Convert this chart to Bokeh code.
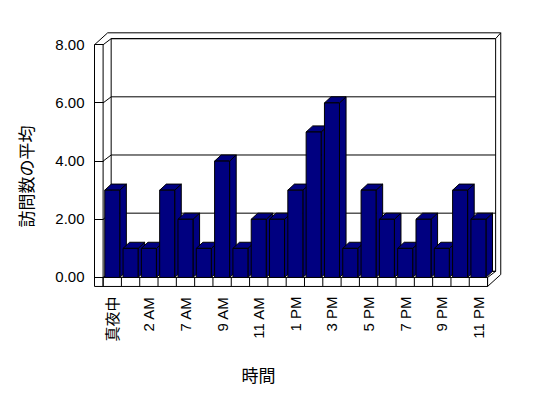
import math
from bokeh.plotting import figure
from bokeh.models import FixedTicker, Title, Range1d
from bokeh.embed import file_html
from bokeh.resources import INLINE

# ---- data ----
categories = ["真夜中", "1 AM", "2 AM", "6 AM", "7 AM", "8 AM", "9 AM", "10 AM",
              "11 AM", "12 PM", "1 PM", "2 PM", "3 PM", "4 PM", "5 PM", "6 PM",
              "7 PM", "8 PM", "9 PM", "10 PM", "11 PM"]
values = [3, 1, 1, 3, 2, 1, 4, 1, 2, 2, 3, 5, 6, 1, 3, 2, 1, 2, 1, 3, 2]
y_ticks = [0, 2, 4, 6, 8]
y_tick_labels = ["0.00", "2.00", "4.00", "6.00", "8.00"]
x_title = "時間"
y_title = "訪問数の平均"

# ---- 3D geometry (data units) ----
N = len(categories)
YMAX = y_ticks[-1]
B0, B1 = 0.09, 0.91          # bar front span inside a category
BDX, BDY = 0.36, 0.21        # bar depth
WDX, WDY = 0.44, 0.21        # floor / back wall depth
ODX, ODY = 0.72, 0.41        # outer wall depth
WT = 0.47                    # left wall thickness
FT = 0.31                    # floor thickness
NAVY = "#000080"

p = figure(width=540, height=397, output_backend="svg", toolbar_location=None,
           x_range=Range1d(-WT, N + 0.87), y_range=Range1d(-0.38, 8.49),
           min_border_left=94, min_border_right=37, min_border_top=30,
           min_border_bottom=109)
p.outline_line_color = None
p.xgrid.visible = False
p.ygrid.visible = False
p.background_fill_color = "white"
p.border_fill_color = "white"

# outer shell of walls and floor
p.patch([-WT, -WT + ODX, N + ODX, N + ODX, N, -WT],
        [YMAX, YMAX + ODY, YMAX + ODY, -FT + ODY, -FT, -FT],
        fill_color="white", line_color="black", line_width=1)
# back wall inner face
p.patch([WDX, N + WDX, N + WDX, WDX], [WDY, WDY, YMAX + WDY, YMAX + WDY],
        fill_color="white", line_color="black", line_width=1)
# inner edges
edge_xs = [[0, 0], [0, N], [N, N + WDX], [N, N],
           [N + WDX, N + ODX]]
edge_ys = [[-FT, YMAX], [0, 0], [0, WDY], [-FT, 0],
           [YMAX + WDY, YMAX + ODY]]
# floor dividers
for i in range(N + 1):
    edge_xs.append([i, i])
    edge_ys.append([-FT, 0])
p.multi_line(edge_xs, edge_ys, line_color="black", line_width=1)

# gridlines on side + back wall
gxs = [[0, WDX, N + WDX] for v in y_ticks]
gys = [[v, v + WDY, v + WDY] for v in y_ticks]
p.multi_line(gxs, gys, line_color="black", line_width=1)

# bars
side_x, side_y, top_x, top_y = [], [], [], []
left = [i + B0 for i in range(N)]
right = [i + B1 for i in range(N)]
for l, r, v in zip(left, right, values):
    side_x.append([r, r + BDX, r + BDX, r])
    side_y.append([0, BDY, v + BDY, v])
    top_x.append([l, r, r + BDX, l + BDX])
    top_y.append([v, v, v + BDY, v + BDY])
p.patches(side_x, side_y, fill_color=NAVY, line_color="black", line_width=1)
p.patches(top_x, top_y, fill_color=NAVY, line_color="black", line_width=1)
p.quad(left=left, right=right, bottom=0, top=values,
       fill_color=NAVY, line_color="black", line_width=1)

# left axis
ya = p.yaxis[0]
ya.ticker = FixedTicker(ticks=y_ticks)
ya.major_label_overrides = {t: s for t, s in zip(y_ticks, y_tick_labels)}
ya.bounds = (-FT, YMAX)
ya.major_tick_in = 9
ya.major_tick_out = 0
ya.minor_tick_line_color = None
ya.axis_line_color = "black"
ya.major_tick_line_color = "black"
ya.major_label_standoff = 10
ya.major_label_text_font = "Liberation Sans"
ya.major_label_text_font_size = "15px"
ya.major_label_text_color = "black"
ya.axis_label = " "
ya.axis_label_text_font_size = "1px"
ya.axis_label_standoff = 6

# bottom axis
xa = p.xaxis[0]
label_pos = [i + 0.5 for i in range(0, N, 2)]
xa.ticker = FixedTicker(ticks=label_pos)
xa.major_label_overrides = {i + 0.5: categories[i] for i in range(0, N, 2)}
xa.axis_line_color = None
xa.major_tick_line_color = None
xa.minor_tick_line_color = None
xa.major_label_orientation = math.pi / 2
xa.major_label_standoff = 2
xa.major_label_text_font = "Liberation Sans, Noto Sans CJK JP"
xa.major_label_text_font_size = "15px"
xa.major_label_text_color = "black"
xa.axis_label = " "
xa.axis_label_text_font_size = "1px"
xa.axis_label_standoff = 6

p.add_layout(Title(text=y_title, align="left", offset=61, standoff=10,
                   text_font="Noto Sans CJK JP", text_font_size="17px",
                   text_font_style="normal", text_color="black"), "left")
p.add_layout(Title(text=x_title, align="left", offset=147, standoff=10,
                   text_font="Noto Sans CJK JP", text_font_size="17px",
                   text_font_style="normal", text_color="black"), "below")

open("out.html", "w").write(file_html(p, INLINE))
